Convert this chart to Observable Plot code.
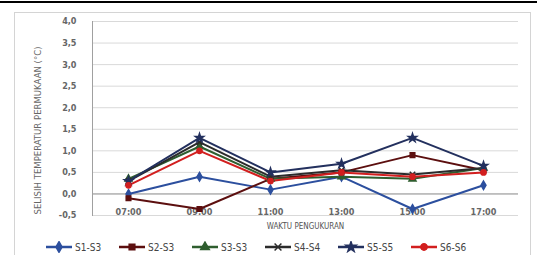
<!DOCTYPE html>
<html><head><meta charset="utf-8">
<script src="https://cdn.jsdelivr.net/npm/d3@7"></script>
<script src="https://cdn.jsdelivr.net/npm/@observablehq/plot@0.6"></script>
<style>
html,body{margin:0;padding:0;background:#fff;}
body{width:537px;height:255px;overflow:hidden;position:relative;font-family:"Liberation Sans Narrow","DejaVu Sans Condensed","Liberation Sans",sans-serif;}
#topline{position:absolute;left:0;top:1px;width:537px;height:2px;background:#000;}
#box{position:absolute;left:14px;top:12px;width:515px;height:260px;border:1px solid #d4d4d4;border-bottom:none;}
#wrap{position:absolute;left:0;top:0;}
#legend{display:flex;gap:0;margin-left:44px;margin-top:5px;font-size:10px;color:#444;}
.item{display:flex;align-items:center;width:73px;}
.item span{margin-left:1px;}
</style>
</head><body>
<div id="topline"></div>
<div id="box"></div>
<div id="wrap"></div>
<script>
const times = ["07:00","09:00","11:00","13:00","15:00","17:00"];
const seriesNames = ["S1-S3","S2-S3","S3-S3","S4-S4","S5-S5","S6-S6"];
const s1 = [0.0, 0.4, 0.1, 0.4, -0.35, 0.2];
const s2 = [-0.1, -0.35, 0.35, 0.5, 0.9, 0.55];
const s3 = [0.35, 1.1, 0.35, 0.4, 0.35, 0.6];
const s4 = [0.3, 1.2, 0.4, 0.55, 0.45, 0.6];
const s5 = [0.3, 1.3, 0.5, 0.7, 1.3, 0.65];
const s6 = [0.2, 1.0, 0.3, 0.5, 0.4, 0.5];
const yTicks = [-0.5, 0, 0.5, 1, 1.5, 2, 2.5, 3, 3.5, 4];
const colors = ["#2c4f9e","#5c0f0f","#2f5e2f","#2b2b2b","#23305e","#d21f1f"];
const symbols = ["diamond","square","triangle","times","star","circle"];

const allSeries = [s1,s2,s3,s4,s5,s6];
const rows = allSeries.flatMap((vals,i)=>vals.map((v,j)=>({time:times[j], value:v, series:seriesNames[i]})));

const fmt = d => d.toFixed(1).replace(".", ",");

const chart = Plot.plot({
  width: 537,
  height: 236,
  marginLeft: 92,
  marginRight: 19,
  marginTop: 21,
  marginBottom: 21,
  style: {fontFamily: '"Liberation Sans Narrow","DejaVu Sans Condensed","Liberation Sans",sans-serif', background: "transparent"},
  x: {type: "point", domain: times, padding: 0.5, axis: null},
  y: {domain: [-0.5, 4], axis: null},
  color: {domain: seriesNames, range: colors},
  symbol: {domain: seriesNames, range: symbols},
  marks: [
    Plot.gridY(yTicks, {stroke: "#d9d9d9", strokeOpacity: 1}),
    Plot.ruleY([0], {stroke: "#9a9a9a"}),
    Plot.frame({anchor: "left", stroke: "#a0a0a0"}),
    Plot.axisY(yTicks, {tickSize: 0, tickPadding: 16, tickFormat: fmt, fill: "#666", fontSize: 9, fontWeight: "bold", label: null}),
    Plot.text(["SELISIH TEMPERATUR PERMUKAAN (°C)"], {frameAnchor: "left", textAnchor: "middle", dx: -55, dy: 12, rotate: -90, fill: "#666", fontSize: 9.5}),
    Plot.text(times, {x: d => d, y: () => 0, dy: 18, text: d => d, fill: "#666", fontSize: 9, fontWeight: "bold"}),
    Plot.text(["WAKTU PENGUKURAN"], {frameAnchor: "bottom", dy: 13, fill: "#555", fontSize: 8}),
    Plot.line(rows, {x: "time", y: "value", stroke: "series", z: "series", strokeWidth: 2}),
    Plot.dot(rows, {x: "time", y: "value", symbol: "series", fill: "series", stroke: "series", r: 2.6})
  ]
});
document.getElementById("wrap").appendChild(chart);

// legend
const symMap = {diamond: d3.symbolDiamond, square: d3.symbolSquare, triangle: d3.symbolTriangle, times: d3.symbolTimes, star: d3.symbolStar, circle: d3.symbolCircle};
const legend = document.createElement("div");
legend.id = "legend";
seriesNames.forEach((name, i) => {
  const item = document.createElement("div");
  item.className = "item";
  const ns = "http://www.w3.org/2000/svg";
  const svg = document.createElementNS(ns, "svg");
  svg.setAttribute("width", 30); svg.setAttribute("height", 12);
  const line = document.createElementNS(ns, "line");
  line.setAttribute("x1", 2); line.setAttribute("x2", 28); line.setAttribute("y1", 6); line.setAttribute("y2", 6);
  line.setAttribute("stroke", colors[i]); line.setAttribute("stroke-width", 2.5);
  svg.appendChild(line);
  const path = document.createElementNS(ns, "path");
  path.setAttribute("d", d3.symbol(symMap[symbols[i]], 32)());
  path.setAttribute("transform", "translate(15,6)");
  path.setAttribute("fill", colors[i]); path.setAttribute("stroke", colors[i]); path.setAttribute("stroke-width", 1.5);
  svg.appendChild(path);
  item.appendChild(svg);
  const sp = document.createElement("span");
  sp.textContent = name;
  item.appendChild(sp);
  legend.appendChild(item);
});
document.getElementById("wrap").appendChild(legend);
</script>
</body></html>
